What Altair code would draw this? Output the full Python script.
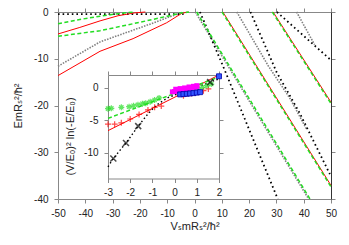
import altair as alt
import pandas as pd

# ---------------- main panel (x: V_s m R_s^2/hbar^2, y: E m R_s^2/hbar^2) ----------------
# red solid curves
R1_X = [-50, -34.6, -22.5, -10.2, -4.7, -2.5]
R1_Y = [-13.6, -8.4, -5.7, -2.3, -0.3, 0]
R2_X = [-50, -42, -34.6, -28, -22, -18]
R2_Y = [-4.7, -3.3, -1.9, -0.8, -0.2, 0]
R3_X = [10.4, 50]
R3_Y = [0, -37.1]
R4_X = [28.8, 50]
R4_Y = [0, -19.3]
# green dashed curves
G1_X = [-50, -42, -34.6, -28, -22]
G1_Y = [-2.5, -1.6, -0.9, -0.35, 0]
G2_X = [-50, -34.6, -20, -10, -5, -2]
G2_Y = [-5.2, -4.0, -2.2, -0.9, -0.2, 0]
G3_X = [0.8, 42.3]
G3_Y = [0, -40]
G4_X = [10.1, 50]
G4_Y = [0, -37.4]
G5_X = [28.5, 50]
G5_Y = [0, -19.6]
# gray dotted curves
Y1_X = [-50, -34.6, -16.3, -8, -4]
Y1_Y = [-11.6, -6.4, -2.6, -0.8, 0]
Y2_X = [0.3, 41.8]
Y2_Y = [0, -40]
Y3_X = [15.5, 27, 35, 41]
Y3_Y = [0, -11.5, -18.5, -25]
Y4_X = [37.4, 44]
Y4_Y = [0, -7]
# black dotted curves
B1_X = [-50, -4]
B1_Y = [-0.45, -0.45]
B2_X = [2, 10.4, 30.5]
B2_Y = [0, -11.5, -40]
B3_X = [20.5, 30.1, 38.6, 49.6]
B3_Y = [0, -12.9, -21.7, -34.7]
B4_X = [30.2, 49.6]
B4_Y = [0, -10.1]

# ---------------- inset (x: -3..2, y: (V/E0)^2 ln(-E/E0)) ----------------
IN_RED_X = [-3, 2]
IN_RED_Y = [-6.6, 2.0]
IN_GRN_X = [-3, 2]
IN_GRN_Y = [-4.7, 1.7]
IN_BLK_X = [-3, -2.76, -2.19, -1.64, -1.2, -0.8, -0.3, 0.3, 1.0, 1.6, 2.0]
IN_BLK_Y = [-12.2, -10.9, -8.5, -5.9, -4.0, -2.6, -1.5, -0.7, 0.1, 0.9, 1.4]
IN_PLUS_X = [-3.0, -2.7, -2.4, -2.0, -1.6, -1.2, -0.9, -0.6, 0.4, 0.55, 0.75, 0.92, 1.07, 1.3, 1.52]
IN_PLUS_Y = [-5.6, -5.6, -5.4, -4.8, -4.1, -3.4, -3.0, -2.8, -1.2, -0.95, -0.85, -0.8, -0.45, -0.42, -0.16]
IN_STAR_X = [-3.0, -2.85, -2.4, -2.05, -1.85, -1.65, -1.45, -1.3, -1.1, -0.9, -0.7, 0.85, 1.05, 1.25, 1.45, 1.65]
IN_STAR_Y = [-3.2, -3.15, -3.0, -2.9, -2.75, -2.6, -2.45, -2.35, -2.15, -1.85, -1.55, -0.45, -0.15, 0.1, 0.35, 0.6]
IN_XM_X = [-2.76, -2.19, -1.64, 1.6]
IN_XM_Y = [-10.9, -8.5, -5.9, 0.9]
IN_MAG_X = [-0.1, 0.0, 0.1, 0.2, 0.3, 0.4, 0.5, 0.6, 0.7, 0.8, 0.9, 1.0, 0.05, 0.25, 0.45, 0.65, 0.85, 1.0]
IN_MAG_Y = [-0.6, -0.55, -0.45, -0.4, -0.35, -0.25, -0.2, -0.1, -0.05, 0.05, 0.1, 0.2, -0.2, -0.1, 0.0, 0.15, 0.25, 0.35]
IN_BLU_X = [0.25, 0.4, 0.55, 0.7, 0.85, 1.0, 1.15, 2.0]
IN_BLU_Y = [-1.0, -0.95, -0.9, -0.85, -0.8, -0.72, -0.65, 1.8]

MAIN_XTICKS = [-50, -40, -30, -20, -10, 0, 10, 20, 30, 40, 50]
MAIN_YTICKS = [-40, -30, -20, -10, 0]
IN_XTICKS = [-3, -2, -1, 0, 1, 2]
IN_YTICKS = [-10, -5, 0]


def frame(parts):
    rows = []
    for name, xs, ys in parts:
        for i, (a, b) in enumerate(zip(xs, ys)):
            rows.append({"s": name, "i": i, "x": a, "y": b})
    return pd.DataFrame(rows)


W, H = 273, 187
IX = [50, 161]
IY = [166.5, 63]
FONT = "Liberation Sans, Arial, DejaVu Sans"
GRAY = "#888888"

AX = dict(grid=False, domainColor=GRAY, tickColor=GRAY, labelColor="#222222",
          labelFont=FONT, labelFontSize=10, titleFont=FONT, titleFontSize=11,
          titleFontWeight="normal", titleColor="#222222", tickSize=4,
          labelExpr="datum.value + ''", labelFlush=False, labelOverlap=False)
AXT = dict(grid=False, domainColor=GRAY, tickColor=GRAY, tickSize=4, labels=False, title=None)


def mx(axis):
    return alt.X("x:Q", scale=alt.Scale(domain=[-50, 50], nice=False, zero=False), axis=axis)


def my(axis):
    return alt.Y("y:Q", scale=alt.Scale(domain=[-40, 0], nice=False, zero=False), axis=axis)


def ix(axis):
    return alt.X("x:Q", scale=alt.Scale(domain=[-3, 2], range=IX, nice=False, zero=False), axis=axis)


def iy(axis):
    return alt.Y("y:Q", scale=alt.Scale(domain=[-14, 2], range=IY, nice=False, zero=False), axis=axis)


main_red = frame([("r1", R1_X, R1_Y), ("r2", R2_X, R2_Y), ("r3", R3_X, R3_Y), ("r4", R4_X, R4_Y)])
main_grn = frame([("g1", G1_X, G1_Y), ("g2", G2_X, G2_Y), ("g3", G3_X, G3_Y), ("g4", G4_X, G4_Y), ("g5", G5_X, G5_Y)])
main_gry = frame([("y1", Y1_X, Y1_Y), ("y2", Y2_X, Y2_Y), ("y3", Y3_X, Y3_Y), ("y4", Y4_X, Y4_Y)])
main_blk = frame([("b1", B1_X, B1_Y), ("b2", B2_X, B2_Y), ("b3", B3_X, B3_Y), ("b4", B4_X, B4_Y)])

l_gry = alt.Chart(main_gry).mark_line(color="#808080", strokeWidth=1.6, strokeDash=[1.5, 1.3]).encode(
    x=mx(None), y=my(None), detail="s:N", order="i:Q")
l_blk = alt.Chart(main_blk).mark_line(color="#000000", strokeWidth=1.8, strokeDash=[1.6, 3]).encode(
    x=mx(None), y=my(None), detail="s:N", order="i:Q")
l_red = alt.Chart(main_red).mark_line(color="#ff0000", strokeWidth=1).encode(
    x=mx(alt.Axis(orient="bottom", values=MAIN_XTICKS, title="VₛmRₛ²/ħ²", labelPadding=5, titlePadding=2, **AX)),
    y=my(alt.Axis(orient="left", values=MAIN_YTICKS, title="EmRₛ²/ħ²", labelPadding=6, titlePadding=10, **AX)),
    detail="s:N", order="i:Q")
l_grn = alt.Chart(main_grn).mark_line(color="#22dd22", strokeWidth=1.5, strokeDash=[4, 2.5]).encode(
    x=mx(alt.Axis(orient="top", values=MAIN_XTICKS, **AXT)),
    y=my(alt.Axis(orient="right", values=MAIN_YTICKS, grid=False, domainColor="#333333", tickColor=GRAY,
                  tickSize=4, labels=False, title=None)),
    detail="s:N", order="i:Q")

in_red = pd.DataFrame({"x": IN_RED_X, "y": IN_RED_Y})
in_grn = pd.DataFrame({"x": IN_GRN_X, "y": IN_GRN_Y})
in_blk = pd.DataFrame({"x": IN_BLK_X, "y": IN_BLK_Y})
in_plus = pd.DataFrame({"x": IN_PLUS_X, "y": IN_PLUS_Y})
in_star = pd.DataFrame({"x": IN_STAR_X, "y": IN_STAR_Y})
in_xm = pd.DataFrame({"x": IN_XM_X, "y": IN_XM_Y})
in_mag = pd.DataFrame({"x": IN_MAG_X, "y": IN_MAG_Y})
in_blu = pd.DataFrame({"x": IN_BLU_X, "y": IN_BLU_Y})

PLUS = "M-1,0L1,0M0,-1L0,1"
CROSS = "M-1,-1L1,1M-1,1L1,-1"
STAR = "M-1,0L1,0M0,-1L0,1M-0.7,-0.7L0.7,0.7M-0.7,0.7L0.7,-0.7"

i_red = alt.Chart(in_red).mark_line(color="#ff0000", strokeWidth=1).encode(
    x=ix(alt.Axis(orient="bottom", offset=IY[0] - H, values=IN_XTICKS, title=None, labelPadding=5, **AX)),
    y=iy(alt.Axis(orient="left", offset=-IX[0], values=IN_YTICKS, title="(V/E₀)² ln(-E/E₀)",
                  labelPadding=6, titlePadding=8, titleY=124, **AX)))
i_grn = alt.Chart(in_grn).mark_line(color="#22dd22", strokeWidth=1.5, strokeDash=[4, 2.5]).encode(
    x=ix(alt.Axis(orient="top", offset=-IY[1], values=IN_XTICKS, **AXT)),
    y=iy(alt.Axis(orient="right", offset=IX[1] - W, values=IN_YTICKS, **AXT)))
i_blk = alt.Chart(in_blk).mark_line(color="#000000", strokeWidth=1.4, strokeDash=[1.5, 2.5]).encode(
    x=ix(None), y=iy(None))
i_plus = alt.Chart(in_plus).mark_point(shape=PLUS, filled=False, color="#ff0000", size=36, strokeWidth=1.2).encode(
    x=ix(None), y=iy(None))
i_star = alt.Chart(in_star).mark_point(shape=STAR, filled=False, color="#22dd22", size=36, strokeWidth=1.2).encode(
    x=ix(None), y=iy(None))
i_xm = alt.Chart(in_xm).mark_point(shape=CROSS, filled=False, color="#000000", size=36, strokeWidth=1.5).encode(
    x=ix(None), y=iy(None))
i_mag = alt.Chart(in_mag).mark_square(color="#ff00ff", size=25, opacity=1).encode(x=ix(None), y=iy(None))
i_blu = alt.Chart(in_blu).mark_square(fill="#3355ff", stroke="#0000aa", strokeWidth=0.8, size=25, opacity=1).encode(
    x=ix(None), y=iy(None))

chart = alt.layer(
    l_gry, l_blk, l_red, l_grn,
    i_red, i_grn, i_blk, i_plus, i_star, i_xm, i_mag, i_blu
).resolve_scale(x="independent", y="independent").properties(
    width=W, height=H,
    padding={"left": 50, "top": 4, "right": 10, "bottom": 40},
    autosize=alt.AutoSizeParams(type="none"),
).configure_view(stroke=None).configure(background="white")

chart.save("out.html", embed_options={"renderer": "svg", "actions": False})
